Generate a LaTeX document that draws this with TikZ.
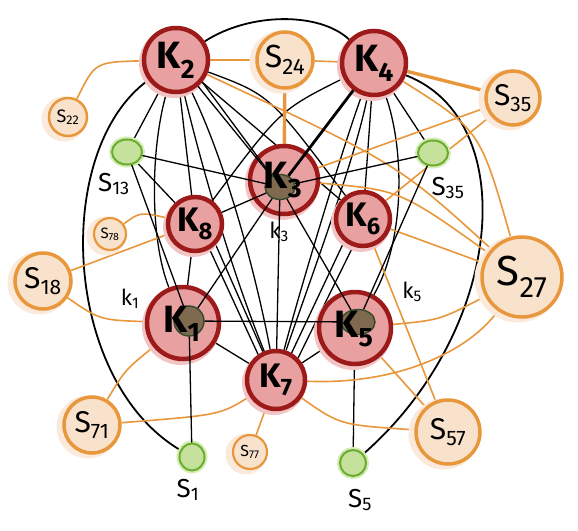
\documentclass[tikz,border=0pt]{standalone}
\usepackage{fontspec}
\setmainfont{Fira Sans}
\usetikzlibrary{shapes.geometric}
\definecolor{rojoK}{HTML}{9C1A1A}
\definecolor{rosaK}{HTML}{E8A0A0}
\definecolor{haloK}{HTML}{F2C4C4}
\definecolor{naranjaS}{HTML}{E9973C}
\definecolor{cremaS}{HTML}{F8E2CC}
\definecolor{haloS}{HTML}{FBEADC}
\definecolor{verdeS}{HTML}{6BAD2F}
\definecolor{verdeF}{HTML}{C5E19B}
\definecolor{haloG}{HTML}{D6EBB6}
\definecolor{cafeC}{HTML}{7F6A4F}
\definecolor{verdeO}{HTML}{2E4B2C}
\newcommand{\tam}[1]{\fontsize{#1}{#1}\selectfont}
\pgfdeclarelayer{aristas}
\pgfdeclarelayer{frente}
\pgfsetlayers{aristas,main,frente}

\begin{document}
\begin{tikzpicture}[x=1pt,y=-1pt,
    knode/.style={circle,draw=rojoK,line width=4.5pt,fill=rosaK,inner sep=0pt,
      font=\tam{38}\bfseries,
      preaction={draw=haloK,fill=haloK,line width=6pt,transform canvas={shift={(-2pt,-3pt)}}}},
    ktext/.style={font=\tam{38}\bfseries},
    snode/.style={circle,draw=naranjaS,line width=3.5pt,fill=cremaS,inner sep=0pt,
      preaction={draw=haloS,fill=haloS,line width=7pt,transform canvas={shift={(-4pt,-2pt)}}}},
    gnode/.style={ellipse,draw=verdeS,line width=2pt,fill=verdeF,inner sep=0pt,
      preaction={draw=haloG,fill=haloG,line width=6pt}},
    core/.style={ellipse,draw=verdeO,line width=1.4pt,fill=cafeC,inner sep=0pt},
    etiq/.style={font=\tam{26}},
    link/.style={black,line width=1.3pt},
    arco/.style={black,line width=1.8pt},
    linkgrueso/.style={black,line width=2.8pt},
    olink/.style={naranjaS,line width=1.6pt},
    olinkgrueso/.style={naranjaS,line width=3.4pt}]
  \useasboundingbox (0,0) rectangle (578,530);

  \node[knode,minimum size=64] (K2) at (176,60) {K\textsubscript{2}};
  \node[knode,minimum size=64] (K4) at (374,63) {K\textsubscript{4}};
  \node[knode,minimum size=68] (K3) at (284,180) {};
  \node[knode,minimum size=54,font=\tam{34}\bfseries] (K8) at (195,224) {K\textsubscript{8}};
  \node[knode,minimum size=54,font=\tam{34}\bfseries] (K6) at (363,219) {K\textsubscript{6}};
  \node[knode,minimum size=72] (K1) at (183,323) {};
  \node[knode,minimum size=72] (K5) at (355,328) {};
  \node[knode,minimum size=58,font=\tam{34}\bfseries] (K7) at (276,380) {K\textsubscript{7}};

  \node[snode,minimum size=56,font=\tam{32}] (S24) at (285,60) {S\textsubscript{24}};
  \node[snode,minimum size=38,line width=2.5pt,font=\tam{18}] (S22) at (68,117) {S\textsubscript{22}};
  \node[snode,minimum size=32,line width=2.2pt,font=\tam{15}] (S78) at (110,234) {S\textsubscript{78}};
  \node[snode,minimum size=56,font=\tam{30}] (S18) at (43,281) {S\textsubscript{18}};
  \node[snode,minimum size=56,font=\tam{30}] (S71) at (92,425) {S\textsubscript{71}};
  \node[snode,minimum size=34,line width=2.2pt,font=\tam{16}] (S77) at (250,452) {S\textsubscript{77}};
  \node[snode,minimum size=64,font=\tam{30}] (S57) at (448,432) {S\textsubscript{57}};
  \node[snode,minimum size=80,font=\tam{42}] (S27) at (522,277) {S\textsubscript{27}};
  \node[snode,minimum size=54,font=\tam{30}] (S35) at (513,98) {S\textsubscript{35}};

  \node[gnode,minimum width=30,minimum height=25] (g13) at (127,152) {};
  \node[gnode,minimum width=30,minimum height=25] (g35) at (433,153) {};
  \node[gnode,minimum width=25,minimum height=27] (g1) at (192,457) {};
  \node[gnode,minimum width=26,minimum height=26] (g5) at (353,463) {};

  \node[etiq] (l13) at (114,184) {S\textsubscript{13}};
  \node[etiq] (l35) at (448,188) {S\textsubscript{35}};
  \node[etiq] (l1) at (188,490) {S\textsubscript{1}};
  \node[etiq] (l5) at (360,500) {S\textsubscript{5}};
  \node[font=\tam{22}] (lk3) at (279,232) {k\textsubscript{3}};
  \node[font=\tam{22}] (lk1) at (130,299) {k\textsubscript{1}};
  \node[font=\tam{22}] (lk5) at (412,292) {k\textsubscript{5}};

  \begin{pgfonlayer}{aristas}
    \fill[white] (0,0) rectangle (578,530);
    \draw[arco] (K2) .. controls (250,12) and (320,12) .. (K4);
    \draw[arco] (K2) .. controls (52,150) and (62,380) .. (g1);
    \draw[arco] (K4) .. controls (522,120) and (505,330) .. (g5);
    \draw[link] (K2) -- (g13);
    \draw[link] (K2) .. controls (150,150) and (150,240) .. (K1);
    \draw[link] (K2) -- (K8);
    \draw[link] (K2) .. controls (205,180) and (235,280) .. (K7);
    \draw[link] (K2) .. controls (225,160) and (255,270) .. (K7);
    \draw[link] (K2) -- (K6);
    \draw[link] (K2) .. controls (270,95) .. (K6);
    \draw[link] (K4) .. controls (280,110) .. (K8);
    \draw[link] (K4) -- (K6);
    \draw[link] (K4) .. controls (355,160) and (310,280) .. (K7);
    \draw[link] (K4) .. controls (345,140) and (300,290) .. (K7);
    \draw[link] (K4) .. controls (405,150) and (405,240) .. (K5);
    \draw[link] (K4) -- (g35);
    \draw[link] (K8) -- (K1);
    \draw[link] (K8.-60) -- (K7.125);
    \draw[link] (K8.-45) -- (K7.115);
    \draw[link] (g13) -- (K8);
    \draw[link] (K6.-130) -- (K7.60);
    \draw[link] (K6.-110) -- (K7.45);
    \draw[link] (K1) -- (K7);
    \draw[link] (K5) -- (K7);
    \draw[link] (K5) -- (g5);

    \draw[olink] (K2) -- (S24);
    \draw[olink] (K2) .. controls (95,62) .. (S22);
    \draw[olink] (K2) .. controls (398,164) .. (S27);
    \draw[olinkgrueso] (S24) -- (K3);
    \draw[olink] (S24) -- (K4);
    \draw[olinkgrueso] (K4) -- (S35);
    \draw[olink] (K4) .. controls (480,130) .. (S27);
    \draw[olink] (S35) -- (K3);
    \draw[olink] (S35) -- (K6);
    \draw[olink] (K3) .. controls (400,190) .. (S27);
    \draw[olink] (K6) -- (S27);
    \draw[olink] (K6) -- (S57);
    \draw[olink] (K5) .. controls (440,320) .. (S27);
    \draw[olink] (K5) -- (S57);
    \draw[olink] (K7) .. controls (400,385) and (470,350) .. (S27);
    \draw[olink] (K7) .. controls (340,425) .. (S57);
    \draw[olink] (K7) .. controls (220,415) .. (S71);
    \draw[olink] (K7) -- (S77);
    \draw[olink] (K1) .. controls (125,370) .. (S71);
    \draw[olink] (K1) .. controls (100,320) .. (S18);
    \draw[olink] (K8) -- (S18);
    \draw[olink] (K8) .. controls (140,212) .. (S78);
  \end{pgfonlayer}

  \begin{pgfonlayer}{frente}
    \node[core,minimum width=30,minimum height=25] (c3) at (280,187) {};
    \node[core,minimum width=30,minimum height=30] (c1) at (189,321) {};
    \node[core,minimum width=34,minimum height=25] (c5) at (358,322) {};
    \draw[linkgrueso] (K4) -- (c3);
    \draw[link] (K2.-40) -- (c3);
    \draw[link] (K2.-50) -- (c3);
    \draw[link] (g13) -- (c3);
    \draw[link] (g35) -- (c3);
    \draw[link] (K8) -- (c3);
    \draw[link] (c1) -- (c3);
    \draw[link] (c3) -- (c5);
    \draw[link] (c3) -- (K7);
    \draw[link] (c1) -- (c5);
    \draw[link] (g13) -- (c1);
    \draw[link] (c1) -- (g1);
    \draw[link] (g35) -- (c5);
    \node[ktext] (t3) at (283,180) {K\textsubscript{3}};
    \node[ktext] (t1) at (182,324) {K\textsubscript{1}};
    \node[ktext] (t5) at (354,329) {K\textsubscript{5}};
  \end{pgfonlayer}
\end{tikzpicture}
\end{document}
